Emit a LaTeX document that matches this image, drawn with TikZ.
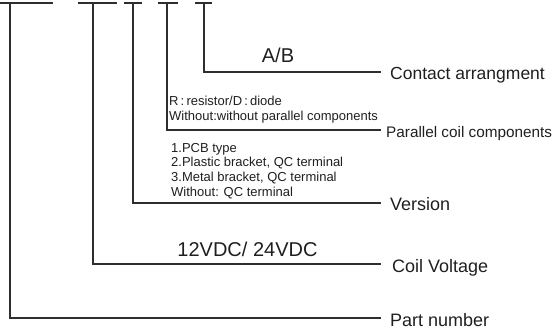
\documentclass[tikz,border=0pt]{standalone}
\usepackage{fontspec}
\setmainfont{Liberation Sans}
\begin{document}
\begin{tikzpicture}[x=1pt,y=-1pt,
  ln/.style={line width=1.1pt, draw=black!82},
  lbl/.style={anchor=base west, inner sep=0pt, text=black!88, font=\fontsize{18}{20}\selectfont},
  small/.style={anchor=base west, inner sep=0pt, text=black!88, font=\fontsize{13}{15}\selectfont},
  big/.style={anchor=base, inner sep=0pt, text=black!88, font=\fontsize{20}{22}\selectfont}]
\useasboundingbox (0,0) rectangle (557,329);
% top bars
\coordinate (b1l) at (0,3);   \coordinate (b1r) at (53,3);
\coordinate (b2l) at (78,3);  \coordinate (b2r) at (117,3);
\coordinate (b3l) at (124,3); \coordinate (b3r) at (142,3);
\coordinate (b4l) at (158,3); \coordinate (b4r) at (178,3);
\coordinate (b5l) at (195,3); \coordinate (b5r) at (212,3);
\draw[ln] (b1l) -- (b1r);
\draw[ln] (b2l) -- (b2r);
\draw[ln] (b3l) -- (b3r);
\draw[ln] (b4l) -- (b4r);
\draw[ln] (b5l) -- (b5r);
% stem tops
\coordinate (t1) at (10,3);
\coordinate (t2) at (93,3);
\coordinate (t3) at (133,3);
\coordinate (t4) at (167,3);
\coordinate (t5) at (204,3);
% line ends
\coordinate (e5) at (381,72);
\coordinate (e4) at (381,130);
\coordinate (e3) at (381,203);
\coordinate (e2) at (381,264);
\coordinate (e1) at (381,318);
\draw[ln] (t5) |- (e5);
\draw[ln] (t4) |- (e4);
\draw[ln] (t3) |- (e3);
\draw[ln] (t2) |- (e2);
\draw[ln] (t1) |- (e1);
% right labels
\node[lbl, font=\fontsize{17.5}{20}\selectfont] (contact) at (390,80) {Contact arrangment};
\node[lbl, font=\fontsize{15.3}{18}\selectfont] (parallel) at (386,137) {Parallel coil components};
\node[lbl] (version) at (390,210) {Version};
\node[lbl] (coil) at (392,272) {Coil Voltage};
\node[lbl] (part) at (390,326) {Part number};
% values
\node[big] (ab) at (278,63) {A/B};
\node[big] (volt) at (247.5,256) {12VDC/ 24VDC};
\node[small] (r1) at (169,106) {R\,:\,resistor/D\,:\,diode};
\node[small] (r2) at (169,120) {Without:without parallel components};
\node[small] (v1) at (171,152) {1.PCB type};
\node[small] (v2) at (171,166.7) {2.Plastic bracket, QC terminal};
\node[small] (v3) at (171,181.3) {3.Metal bracket, QC terminal};
\node[small] (v4) at (171,196) {Without: QC terminal};
\end{tikzpicture}
\end{document}
